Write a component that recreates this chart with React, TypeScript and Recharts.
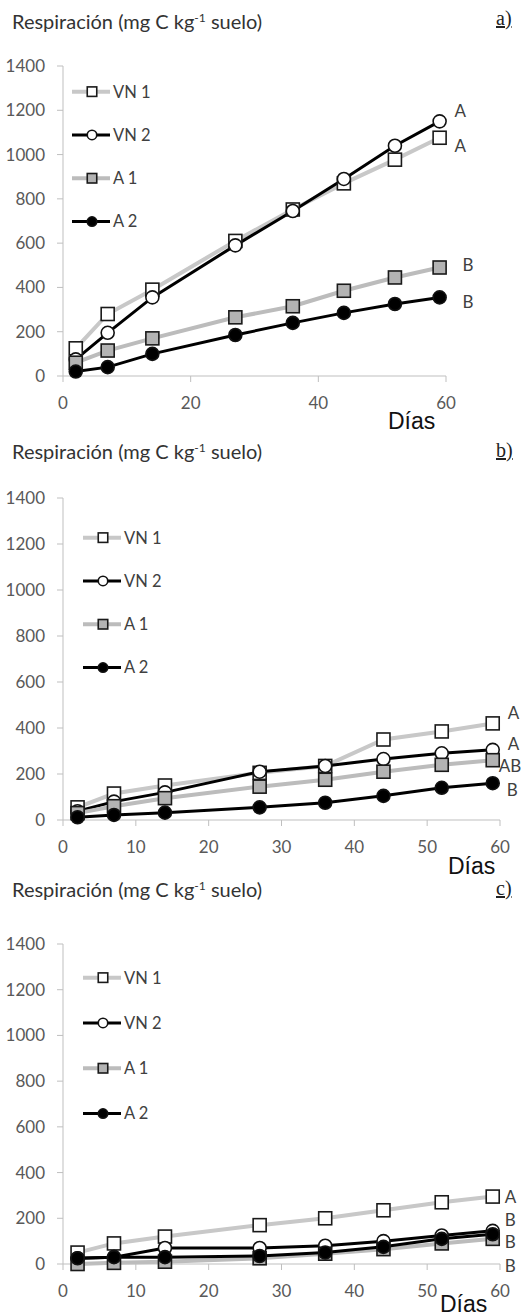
import React from "react";
import { LineChart, Line, XAxis, YAxis, Legend } from "recharts";

// sampling days (x) shared by all three panels
const DAYS = [2, 7, 14, 27, 36, 44, 52, 59];
const SERIES = ["VN 1", "VN 2", "A 1", "A 2"];
const Y_TICKS = [0, 200, 400, 600, 800, 1000, 1200, 1400];
const X_TICKS_A = [0, 20, 40, 60];
const X_TICKS_BC = [0, 10, 20, 30, 40, 50, 60];

// panel a)
const A_VN1 = [125, 280, 390, 610, 752, 870, 977, 1076];
const A_VN2 = [75, 195, 355, 590, 745, 890, 1040, 1150];
const A_A1 = [60, 115, 170, 265, 315, 385, 445, 490];
const A_A2 = [20, 40, 100, 185, 240, 285, 325, 355];
const A_LETTERS = ["A", "A", "B", "B"];

// panel b)
const B_VN1 = [55, 115, 150, 205, 235, 350, 385, 420];
const B_VN2 = [38, 80, 120, 210, 235, 265, 290, 305];
const B_A1 = [30, 60, 95, 145, 175, 210, 240, 260];
const B_A2 = [12, 22, 32, 55, 75, 105, 140, 160];
const B_LETTERS = ["A", "A", "AB", "B"];

// panel c)
const C_VN1 = [50, 90, 120, 170, 200, 235, 270, 295];
const C_VN2 = [25, 30, 70, 70, 80, 100, 125, 145];
const C_A1 = [0, 5, 10, 25, 45, 65, 90, 110];
const C_A2 = [25, 30, 30, 35, 50, 75, 110, 130];
const C_LETTERS = ["A", "B", "B", "B"];

const AXIS = "#bfbfbf";
const FONT = "Lato, 'Open Sans', sans-serif";

type Shape = "square" | "circle";
interface SeriesStyle {
  stroke: string;
  width: number;
  shape: Shape;
  fill: string;
}

const STYLES: SeriesStyle[] = [
  { stroke: "#c8c8c8", width: 4, shape: "square", fill: "#ffffff" },
  { stroke: "#000000", width: 3, shape: "circle", fill: "#ffffff" },
  { stroke: "#bcbcbc", width: 4, shape: "square", fill: "#b3b3b3" },
  { stroke: "#000000", width: 3, shape: "circle", fill: "#000000" },
];

function marker(shape: Shape, cx: number, cy: number, size: number, fill: string) {
  if (shape === "square") {
    return (
      <rect
        x={cx - size / 2}
        y={cy - size / 2}
        width={size}
        height={size}
        fill={fill}
        stroke="#1a1a1a"
        strokeWidth={1.6}
      />
    );
  }
  return <circle cx={cx} cy={cy} r={size / 2} fill={fill} stroke="#111" strokeWidth={1.6} />;
}

// marker for every point, plus the significance letter next to the last one
function makeDot(s: SeriesStyle, letter: string, off: [number, number]) {
  return (props: any) => {
    const { cx, cy, index } = props;
    if (cx == null || cy == null) return <g key={index} />;
    return (
      <g key={index}>
        {marker(s.shape, cx, cy, 13, s.fill)}
        {index === DAYS.length - 1 && (
          <text
            x={cx + off[0]}
            y={cy + off[1]}
            dy="0.36em"
            fontSize={17}
            fontFamily={FONT}
            fill="#404040"
          >
            {letter}
          </text>
        )}
      </g>
    );
  };
}

function LegendBox({ gap }: { gap: number }) {
  return (
    <svg width={110} height={gap * 4} style={{ display: "block" }}>
      {STYLES.map((s, i) => {
        const y = gap / 2 + i * gap;
        return (
          <g key={i}>
            <line x1={0} x2={38} y1={y} y2={y} stroke={s.stroke} strokeWidth={s.width} />
            {marker(s.shape, 20, y, 9.5, s.fill)}
            <text x={41} y={y} dy="0.36em" fontSize={16.5} fontFamily={FONT} fill="#404040">
              {SERIES[i]}
            </text>
          </g>
        );
      })}
    </svg>
  );
}

interface PanelProps {
  top: number;
  bottom: number;
  right: number;
  values: number[][];
  letters: string[];
  offsets: [number, number][];
  xTicks: number[];
  legendLeft: number;
  legendFirst: number;
  legendGap: number;
}

function Panel(p: PanelProps) {
  const chartTop = p.top - 30;
  const height = p.bottom - chartTop + 50;
  const data = DAYS.map((d, i) => ({
    day: d,
    s0: p.values[0][i],
    s1: p.values[1][i],
    s2: p.values[2][i],
    s3: p.values[3][i],
  }));
  const tick = { fontSize: 17, fill: "#595959", fontFamily: FONT };

  return (
    <div style={{ position: "absolute", left: 0, top: chartTop }}>
      <LineChart
        width={521}
        height={height}
        data={data}
        margin={{ top: 30, right: 521 - p.right, bottom: 10, left: 0 }}
      >
        <XAxis
          dataKey="day"
          type="number"
          domain={[0, 60]}
          ticks={p.xTicks}
          interval={0}
          height={40}
          tickSize={6}
          tickMargin={15}
          axisLine={{ stroke: AXIS }}
          tickLine={{ stroke: AXIS }}
          tick={tick}
        />
        <YAxis
          type="number"
          domain={[0, 1400]}
          ticks={Y_TICKS}
          interval={0}
          width={63}
          tickSize={6}
          tickMargin={12}
          axisLine={{ stroke: AXIS }}
          tickLine={{ stroke: AXIS }}
          tick={tick}
        />
        <Legend
          layout="vertical"
          align="center"
          verticalAlign="middle"
          wrapperStyle={{
            left: p.legendLeft,
            top: 30 + p.legendFirst - p.legendGap / 2,
            width: 110,
            height: p.legendGap * 4,
          }}
          content={() => <LegendBox gap={p.legendGap} />}
        />
        {STYLES.map((s, k) => (
          <Line
            key={k}
            type="linear"
            dataKey={`s${k}`}
            name={SERIES[k]}
            stroke={s.stroke}
            strokeWidth={s.width}
            dot={makeDot(s, p.letters[k], p.offsets[k])}
            activeDot={false}
            isAnimationActive={false}
          />
        ))}
      </LineChart>
    </div>
  );
}

const titleStyle: React.CSSProperties = {
  position: "absolute",
  left: 12,
  fontFamily: FONT,
  fontSize: 20,
  lineHeight: "20px",
  color: "#333",
  whiteSpace: "nowrap",
};

const tagStyle: React.CSSProperties = {
  position: "absolute",
  left: 496,
  fontFamily: "'Liberation Serif', serif",
  fontSize: 20,
  lineHeight: "20px",
  color: "#222",
  textDecoration: "underline",
};

const diasStyle: React.CSSProperties = {
  position: "absolute",
  fontFamily: "'Liberation Sans', Arial, sans-serif",
  fontSize: 23,
  lineHeight: "23px",
  color: "#111",
};

function Title({ top }: { top: number }) {
  return (
    <div style={{ ...titleStyle, top }}>
      Respiración (mg C kg
      <span style={{ fontSize: 12, position: "relative", top: -7 }}>-1</span> suelo)
    </div>
  );
}

export default function App() {
  return (
    <div
      style={{
        position: "absolute",
        left: 0,
        top: 0,
        width: 521,
        height: 1316,
        overflow: "hidden",
        background: "#fff",
      }}
    >
      <Title top={11} />
      <div style={{ ...tagStyle, top: 8 }}>a)</div>
      <Panel
        top={66}
        bottom={376}
        right={446}
        values={[A_VN1, A_VN2, A_A1, A_A2]}
        letters={A_LETTERS}
        offsets={[
          [15, 8],
          [15, -10],
          [23, -3],
          [23, 4],
        ]}
        xTicks={X_TICKS_A}
        legendLeft={72}
        legendFirst={26}
        legendGap={43.3}
      />
      <div style={{ ...diasStyle, left: 388, top: 410 }}>Días</div>

      <Title top={441} />
      <div style={{ ...tagStyle, top: 440 }}>b)</div>
      <Panel
        top={498}
        bottom={820}
        right={500}
        values={[B_VN1, B_VN2, B_A1, B_A2]}
        letters={B_LETTERS}
        offsets={[
          [15, -11],
          [15, -6],
          [6, 6],
          [14, 7],
        ]}
        xTicks={X_TICKS_BC}
        legendLeft={83}
        legendFirst={40}
        legendGap={43.3}
      />
      <div style={{ ...diasStyle, left: 448, top: 855 }}>Días</div>

      <Title top={879} />
      <div style={{ ...tagStyle, top: 878 }}>c)</div>
      <Panel
        top={944}
        bottom={1264}
        right={500}
        values={[C_VN1, C_VN2, C_A1, C_A2]}
        letters={C_LETTERS}
        offsets={[
          [12, 0],
          [12, -11],
          [12, 3],
          [12, 32],
        ]}
        xTicks={X_TICKS_BC}
        legendLeft={83}
        legendFirst={34}
        legendGap={45.3}
      />
      <div style={{ ...diasStyle, left: 440, top: 1293 }}>Días</div>
    </div>
  );
}
